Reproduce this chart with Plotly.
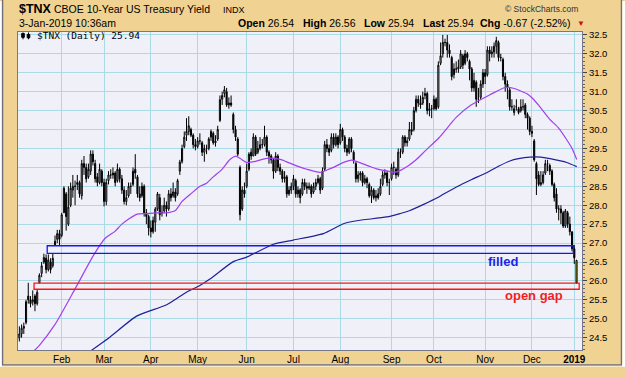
import plotly.graph_objects as go

# ---------------- data (trading-day index: 0 = 2-Jan-2018 ... 252 = 3-Jan-2019) -------------
open_ = [
    # Jan 2018
    24.3, 24.6, 24.5, 24.6, 24.75, 24.9, 25.6, 25.5, 25.45, 25.6, 25.4, 25.95, 26.2, 26.5, 26.6, 26.3, 26.5, 26.4, 26.95, 27.1, 27.25,
    # Feb
    27.2, 27.8, 28.3, 27.5, 28.0, 28.4, 28.5, 28.55, 28.6, 28.25, 29.1, 29.0, 28.75, 28.9, 29.35, 29.1, 28.75, 28.6, 28.9,
    # Mar
    28.6, 28.1, 28.65, 28.8, 28.8, 28.85, 28.65, 28.95, 28.7, 28.4, 28.1, 28.25, 28.5, 28.55, 28.95, 28.75, 28.3, 28.25, 28.5, 27.8, 27.7,
    # Apr
    27.4, 27.3, 27.55, 27.9, 28.2, 27.8, 27.85, 28.0, 27.9, 28.3, 28.25, 28.35, 28.3, 28.9, 29.15, 29.55, 29.85, 29.95, 30.0, 29.85, 29.6,
    # May
    29.55, 29.7, 29.65, 29.4, 29.5, 29.5, 29.8, 29.9, 29.65, 29.75, 30.24, 30.8, 30.95, 31.0, 30.65, 30.7, 30.4, 30.0, 29.75, 29.0, 27.9, 28.4,
    # Jun
    28.5, 28.95, 29.4, 29.3, 29.8, 29.4, 29.5, 29.6, 29.6, 29.8, 29.4, 29.3, 29.2, 28.9, 29.3, 29.0, 28.9, 28.7, 28.75, 28.3, 28.4,
    # Jul
    28.5, 28.65, 28.3, 28.4, 28.3, 28.6, 28.5, 28.45, 28.5, 28.35, 28.5, 28.6, 28.7, 28.45, 28.95, 29.6, 29.5, 29.45, 29.8, 29.6, 29.8,
    # Aug
    29.65, 30.0, 29.8, 29.5, 29.4, 29.75, 29.4, 29.1, 28.7, 28.8, 28.85, 28.6, 28.7, 28.55, 28.25, 28.4, 28.2, 28.3, 28.3, 28.55, 28.8, 28.85, 28.6,
    # Sep
    28.7, 29.0, 28.95, 28.8, 29.4, 29.4, 29.8, 29.65, 29.75, 30.0, 30.0, 30.5, 30.8, 30.7, 30.7, 30.9, 30.95, 30.5, 30.55,
    # Oct
    30.55, 30.8, 30.6, 31.75, 32.0, 32.3, 32.3, 32.1, 31.9, 31.45, 31.6, 31.6, 31.65, 31.95, 31.75, 32.0, 31.8, 31.6, 31.1, 31.25, 30.8, 30.85, 31.2,
    # Nov
    31.5, 31.45, 32.1, 32.0, 32.05, 32.2, 32.3, 31.9, 31.85, 31.4, 31.2, 31.05, 30.6, 30.45, 30.6, 30.55, 30.5, 30.6, 30.65, 30.4, 30.3,
    # Dec
    29.95, 29.7, 29.1, 28.8, 28.55, 28.6, 28.85, 29.1, 29.05, 28.9, 28.55, 28.3, 27.9, 27.9, 27.8, 27.45, 27.8, 27.5, 27.3,
    # Jan 2019
    26.85, 26.54,
]
high = [
    24.7, 24.7, 24.8, 24.85, 24.9, 25.5, 25.95, 25.6, 25.75, 25.65, 25.78, 26.2, 26.5, 26.72, 26.7, 26.7, 26.6, 26.73, 27.2, 27.35, 27.35,
    27.8, 28.5, 28.35, 28.5, 28.6, 28.8, 28.65, 28.8, 28.65, 29.2, 29.3, 29.1, 29.1, 29.45, 29.45, 29.2, 28.85, 29.1, 28.95,
    28.7, 28.7, 28.9, 28.95, 29.0, 28.9, 29.1, 29.0, 28.8, 28.5, 28.4, 28.6, 28.6, 29.0, 29.35, 28.8, 28.5, 28.6, 28.55, 27.9, 27.75,
    27.6, 27.7, 27.95, 28.35, 28.3, 28.0, 28.2, 28.1, 28.4, 28.45, 28.6, 28.45, 28.7, 29.2, 29.6, 29.95, 30.3, 30.35, 30.05, 29.9, 29.75,
    29.8, 29.9, 29.7, 29.6, 29.6, 29.8, 30.0, 29.95, 29.85, 30.1, 30.9, 31.0, 31.15, 31.1, 30.85, 30.9, 30.45, 30.1, 29.8, 29.05, 28.5, 28.6,
    29.1, 29.4, 29.5, 29.9, 29.85, 29.7, 29.8, 29.75, 30.1, 29.85, 29.45, 29.35, 29.25, 29.4, 29.35, 29.1, 28.95, 28.9, 28.8, 28.5, 28.6,
    28.8, 28.7, 28.5, 28.45, 28.7, 28.7, 28.6, 28.6, 28.55, 28.6, 28.7, 28.8, 28.75, 29.0, 29.7, 29.75, 29.6, 29.9, 29.9, 29.9, 29.85,
    30.15, 30.05, 29.85, 29.6, 29.8, 29.8, 29.45, 29.15, 28.9, 28.9, 28.9, 28.8, 28.75, 28.6, 28.5, 28.45, 28.4, 28.45, 28.7, 28.9, 28.95, 28.9, 28.7,
    29.1, 29.15, 29.0, 29.5, 29.5, 29.85, 29.85, 29.8, 30.2, 30.2, 30.6, 30.9, 30.9, 30.9, 31.0, 31.1, 31.0, 30.7, 30.65,
    30.9, 30.85, 31.8, 32.3, 32.5, 32.4, 32.5, 32.25, 31.95, 31.75, 31.8, 31.85, 32.1, 32.0, 32.1, 32.05, 31.85, 31.65, 31.5, 31.3, 31.1, 31.3, 31.6,
    31.6, 32.2, 32.2, 32.2, 32.3, 32.45, 32.35, 32.0, 31.9, 31.5, 31.3, 31.1, 30.8, 30.65, 30.8, 30.6, 30.8, 30.8, 30.7, 30.45, 30.35,
    30.1, 29.75, 29.15, 28.9, 28.9, 28.9, 29.2, 29.2, 29.1, 28.95, 28.6, 28.45, 28.0, 28.0, 27.85, 27.9, 27.85, 27.7, 27.3,
    26.95, 26.56,
]
low = [
    24.2, 24.4, 24.4, 24.5, 24.6, 24.85, 25.4, 25.3, 25.35, 25.2, 25.35, 25.94, 26.1, 26.45, 26.2, 26.25, 26.2, 26.35, 26.93, 27.0, 26.95,
    27.15, 27.8, 27.33, 27.45, 27.95, 28.2, 28.0, 28.4, 28.2, 28.15, 28.8, 28.6, 28.7, 28.8, 29.05, 28.6, 28.5, 28.55, 28.5,
    27.97, 28.0, 28.55, 28.7, 28.7, 28.5, 28.6, 28.6, 28.3, 28.02, 28.0, 28.2, 28.3, 28.5, 28.7, 28.2, 28.1, 28.2, 27.7, 27.5, 27.2,
    27.15, 27.25, 27.3, 27.85, 27.6, 27.7, 27.8, 27.7, 27.85, 28.1, 28.2, 28.1, 28.25, 28.8, 29.1, 29.5, 29.7, 29.85, 29.8, 29.5, 29.45,
    29.5, 29.6, 29.3, 29.15, 29.35, 29.45, 29.7, 29.6, 29.55, 29.7, 30.2, 30.65, 30.85, 30.6, 30.55, 30.6, 29.9, 29.7, 29.3, 27.6, 27.85, 28.2,
    28.45, 28.9, 29.2, 29.3, 29.3, 29.35, 29.45, 29.5, 29.55, 29.3, 29.1, 29.1, 28.7, 28.85, 28.9, 28.8, 28.6, 28.6, 28.2, 28.25, 28.3,
    28.4, 28.2, 28.2, 28.05, 28.25, 28.4, 28.3, 28.4, 28.2, 28.3, 28.4, 28.55, 28.3, 28.4, 28.9, 29.4, 29.3, 29.4, 29.5, 29.55, 29.5,
    29.6, 29.7, 29.4, 29.3, 29.35, 29.4, 29.1, 28.6, 28.6, 28.65, 28.5, 28.55, 28.45, 28.2, 28.06, 28.15, 28.1, 28.15, 28.25, 28.5, 28.7, 28.5, 28.27,
    28.65, 28.8, 28.7, 28.75, 29.25, 29.35, 29.55, 29.55, 29.7, 29.85, 29.95, 30.45, 30.6, 30.55, 30.65, 30.8, 30.4, 30.35, 30.3,
    30.5, 30.5, 30.55, 31.7, 31.9, 32.2, 31.9, 31.9, 31.3, 31.35, 31.5, 31.5, 31.6, 31.6, 31.7, 31.8, 31.3, 31.0, 31.0, 30.6, 30.7, 30.8, 31.1,
    31.2, 31.4, 31.8, 31.9, 31.9, 32.0, 31.8, 31.8, 31.3, 31.0, 30.8, 30.5, 30.5, 30.37, 30.5, 30.4, 30.45, 30.5, 30.3, 30.0, 29.85,
    29.8, 29.15, 28.27, 28.5, 28.5, 28.55, 28.8, 28.9, 28.8, 28.5, 28.1, 27.8, 27.6, 27.5, 27.4, 27.4, 27.4, 27.2, 26.78,
    26.45, 25.94,
]
close = [
    24.6, 24.45, 24.6, 24.75, 24.8, 25.45, 25.5, 25.4, 25.5, 25.4, 25.7, 26.15, 26.4, 26.62, 26.3, 26.55, 26.3, 26.6, 27.05, 27.25, 27.1,
    27.75, 28.45, 27.7, 27.95, 28.45, 28.5, 28.5, 28.6, 28.3, 29.1, 29.0, 28.7, 28.95, 29.35, 29.15, 28.7, 28.6, 28.95, 28.6,
    28.1, 28.6, 28.8, 28.8, 28.85, 28.6, 28.95, 28.7, 28.4, 28.1, 28.2, 28.5, 28.5, 28.9, 28.85, 28.3, 28.2, 28.5, 27.8, 27.7, 27.4,
    27.3, 27.6, 27.9, 28.3, 27.75, 27.8, 28.0, 27.9, 28.3, 28.2, 28.35, 28.2, 28.65, 29.14, 29.5, 29.8, 29.95, 30.1, 29.85, 29.6, 29.55,
    29.7, 29.7, 29.4, 29.5, 29.5, 29.75, 29.95, 29.65, 29.7, 30.0, 30.79, 30.9, 31.05, 30.65, 30.7, 30.65, 30.0, 29.8, 29.35, 27.75, 28.4, 28.3,
    28.9, 29.35, 29.3, 29.8, 29.35, 29.5, 29.6, 29.6, 29.8, 29.4, 29.3, 29.2, 28.9, 29.3, 29.0, 28.9, 28.7, 28.75, 28.3, 28.4, 28.5,
    28.7, 28.3, 28.4, 28.2, 28.6, 28.5, 28.45, 28.5, 28.3, 28.5, 28.6, 28.7, 28.4, 28.9, 29.6, 29.5, 29.4, 29.8, 29.6, 29.8, 29.6,
    30.0, 29.8, 29.5, 29.4, 29.75, 29.5, 29.2, 28.7, 28.8, 28.85, 28.6, 28.7, 28.6, 28.25, 28.4, 28.2, 28.25, 28.2, 28.5, 28.8, 28.85, 28.6, 28.6,
    29.0, 29.0, 28.8, 29.4, 29.4, 29.8, 29.65, 29.7, 30.0, 29.95, 30.5, 30.8, 30.7, 30.65, 30.85, 30.95, 30.5, 30.55, 30.55,
    30.8, 30.55, 31.7, 31.95, 32.3, 32.3, 32.1, 32.0, 31.4, 31.6, 31.6, 31.65, 32.0, 31.7, 32.0, 31.9, 31.6, 31.1, 31.3, 30.8, 30.8, 31.2, 31.5,
    31.4, 32.1, 32.0, 32.05, 32.2, 32.35, 31.9, 31.9, 31.4, 31.2, 31.1, 30.6, 30.6, 30.55, 30.6, 30.45, 30.6, 30.6, 30.4, 30.3, 29.95,
    29.9, 29.2, 28.7, 28.55, 28.6, 28.8, 29.1, 29.1, 28.9, 28.55, 28.2, 27.9, 27.9, 27.8, 27.45, 27.85, 27.5, 27.3, 26.85,
    26.61, 25.94,
]

# moving averages (trading-day index, value)
ma50_day = [8, 11, 18, 27, 35, 40.4, 44.9, 48, 54.6, 59, 63, 68, 72, 75, 79.3, 83, 86, 89, 92.8, 96.5, 99.2,
            101, 104, 108, 113, 119, 123, 126.4, 131, 136.9, 140, 142.9, 147, 151.1, 155, 158.6, 162.3,
            167.5, 170, 173, 176.5, 180, 184, 190.4, 198, 204.5, 213.2, 219.9, 223.6, 229.6, 232, 235.6,
            240, 243.8, 247.6, 250, 252.1]
ma50_val = [24.12, 24.30, 24.85, 25.79, 26.65, 27.12, 27.31, 27.50, 27.76, 27.78, 27.80, 27.80, 27.86, 28.10, 28.32, 28.50, 28.58, 28.75, 28.94, 29.21, 29.30,
            29.24, 29.13, 29.16, 29.24, 29.21, 29.12, 29.04, 28.95, 28.87, 28.93, 29.00, 29.12, 29.19, 29.12, 29.04, 28.96,
            28.90, 28.87, 28.92, 29.04, 29.20, 29.43, 29.79, 30.32, 30.64, 30.92, 31.11, 31.09, 30.95, 30.84, 30.60,
            30.27, 30.05, 29.73, 29.50, 29.21]
ma200_day = [34, 42.7, 54.6, 68.1, 77.1, 83, 87.5, 98, 104, 116, 124.9, 138.4, 147.4, 153.4, 166.8, 172.8,
             177.3, 189.3, 192.2, 199.7, 205, 211.7, 217, 222.1, 226, 231.1, 236, 240.1, 247.6, 252.1]
ma200_val = [24.15, 24.52, 25.07, 25.37, 25.71, 25.88, 26.05, 26.51, 26.63, 26.97, 27.08, 27.25, 27.51, 27.59, 27.69, 27.78,
             27.86, 28.19, 28.29, 28.53, 28.68, 28.86, 29.03, 29.17, 29.23, 29.27, 29.27, 29.23, 29.13, 29.02]

month_day = [21, 40, 61, 82, 104, 125, 146, 169, 188, 211, 232, 251]
month_label = ["Feb", "Mar", "Apr", "May", "Jun", "Jul", "Aug", "Sep", "Oct", "Nov", "Dec", "<b>2019</b>"]
y_ticks = [24.5, 25.0, 25.5, 26.0, 26.5, 27.0, 27.5, 28.0, 28.5, 29.0, 29.5, 30.0, 30.5, 31.0, 31.5, 32.0, 32.5]

filled_gap = dict(start=14.5, end=250.6, low=26.73, high=26.93)
open_gap = dict(start=8.6, end=253.2, low=25.78, high=25.94)

# ---------------- figure ----------------
W, H = 625, 377
ML, MR, MT, MB = 18, 43, 32, 17
PW, PH = W - ML - MR, H - MT - MB


def px(x):
    return (x - ML) / PW


def py(y):
    return (H - MB - y) / PH


BEIGE = "#F0D292"
PLOTBG = "#EFF0F8"
GRID = "#A9DAE6"

days = list(range(len(close)))

fig = go.Figure()
fig.add_trace(go.Scatter(x=ma200_day, y=ma200_val, mode="lines", line=dict(color="#20209A", width=1.2, shape="spline", smoothing=0.6), hoverinfo="skip"))
fig.add_trace(go.Scatter(x=ma50_day, y=ma50_val, mode="lines", line=dict(color="#A040EE", width=1.2, shape="spline", smoothing=0.6), hoverinfo="skip"))
fig.add_trace(go.Candlestick(
    x=days[:-1], open=open_[:-1], high=high[:-1], low=low[:-1], close=close[:-1],
    increasing=dict(line=dict(color="black", width=1), fillcolor=PLOTBG),
    decreasing=dict(line=dict(color="black", width=1), fillcolor="black"),
    whiskerwidth=0, hoverinfo="skip"))
fig.add_trace(go.Candlestick(
    x=days[-1:], open=open_[-1:], high=high[-1:], low=low[-1:], close=close[-1:],
    increasing=dict(line=dict(color="black", width=1), fillcolor="#FFFF33"),
    decreasing=dict(line=dict(color="black", width=1), fillcolor="#FFFF33"),
    whiskerwidth=0, hoverinfo="skip"))

shapes = []
for g, col in ((filled_gap, "#1414FF"), (open_gap, "#FF1414")):
    shapes.append(dict(type="rect", xref="x", yref="y", x0=g["start"], x1=g["end"], y0=g["low"], y1=g["high"],
                       line=dict(color=col, width=1.3), fillcolor="rgba(0,0,0,0)", layer="above"))
# outer frame
shapes.append(dict(type="rect", xref="paper", yref="paper", x0=px(2.5), x1=px(621.5), y0=py(375.5), y1=py(-2),
                   line=dict(color="#6E6E7C", width=1.5), fillcolor="rgba(0,0,0,0)", layer="above"))
for (a, b, c, d) in ((0, 1.7, 0, 377), (622.3, 625, 0, 377), (0, 625, 376.3, 377)):
    shapes.append(dict(type="rect", xref="paper", yref="paper", x0=px(a), x1=px(b), y0=py(d), y1=py(c),
                       line=dict(width=0), fillcolor="white", layer="above"))
# legend icon (two small candles)
for cx, top, bot, b0, b1 in ((23, 32.5, 39.5, 33.5, 37.5), (28.5, 32.5, 39.5, 34.5, 38.0)):
    shapes.append(dict(type="line", xref="paper", yref="paper", x0=px(cx), x1=px(cx), y0=py(bot), y1=py(top),
                       line=dict(color="black", width=1)))
    shapes.append(dict(type="rect", xref="paper", yref="paper", x0=px(cx - 1.3), x1=px(cx + 1.3), y0=py(b1), y1=py(b0),
                       line=dict(color="black", width=1), fillcolor="black"))

HF = "Liberation Sans, Arial, sans-serif"
ann = []


def text(x, y, s, size=10.5, color="black", anchor="left", family=HF):
    ann.append(dict(xref="paper", yref="paper", x=px(x), y=py(y), text=s, showarrow=False,
                    xanchor=anchor, yanchor="middle", font=dict(size=size, color=color, family=family)))


text(17, 8, "<b>$TNX</b>", size=12.5)
text(52, 8.5, "CBOE 10-Year US Treasury Yield", size=10.5)
text(221, 9, "INDX", size=9)
text(580, 8.5, "© StockCharts.com", size=8.5, color="#333333", anchor="right")
text(17, 23, "3-Jan-2019 10:36am", size=10.5)
text(236, 23, "<b>Open</b> 26.54", size=10.5)
text(301, 23, "<b>High</b> 26.56", size=10.5)
text(362, 23, "<b>Low</b> 25.94", size=10.5)
text(421, 23, "<b>Last</b> 25.94", size=10.5)
text(478, 23, "<b>Chg</b> -0.67 (-2.52%)", size=10.5)
text(575, 23, "▼", size=8, color="#CC1010")
text(35, 35.8, "$TNX (Daily) 25.94", size=9.5, family="DejaVu Sans Mono, monospace")

ann.append(dict(xref="x", yref="y", x=218.8, y=26.51, text="<b>filled</b>", showarrow=False,
                font=dict(size=13, color="#1F1FE8", family=HF)))
ann.append(dict(xref="x", yref="y", x=233.1, y=25.61, text="<b>open gap</b>", showarrow=False,
                font=dict(size=13, color="#F01F1F", family=HF)))

fig.update_layout(
    width=W, height=H, autosize=False,
    margin=dict(l=ML, r=MR, t=MT, b=MB, pad=0),
    paper_bgcolor=BEIGE, plot_bgcolor=PLOTBG,
    showlegend=False, shapes=shapes, annotations=ann,
    font=dict(family=HF, color="black"),
    xaxis=dict(range=[(ML - 14.9) / 2.2287, (W - MR - 14.9) / 2.2287], tickmode="array",
               tickvals=month_day, ticktext=month_label, showgrid=True, gridcolor=GRID, gridwidth=1,
               ticks="", tickfont=dict(size=10, color="black", family=HF), showline=True, mirror=True,
               linecolor="#77778A", linewidth=1, zeroline=False, rangeslider=dict(visible=False),
               fixedrange=True),
    yaxis=dict(side="right", range=[24.175, 32.577], tickmode="array", tickvals=y_ticks,
               ticktext=["%.1f" % v for v in y_ticks], showgrid=True, gridcolor=GRID, gridwidth=1,
               ticks="outside", ticklen=4, tickcolor="#444444", tickfont=dict(size=9.5, color="black", family=HF),
               minor=dict(ticks="outside", ticklen=2, dtick=0.1, tickcolor="#666666", showgrid=False),
               showline=True, mirror=True, linecolor="#77778A", linewidth=1, zeroline=False, fixedrange=True),
)

fig.write_html("out.html", config=dict(displayModeBar=False, staticPlot=True),
               post_script="document.body.style.margin='0px';document.body.style.padding='0px';document.body.style.overflow='hidden';")
